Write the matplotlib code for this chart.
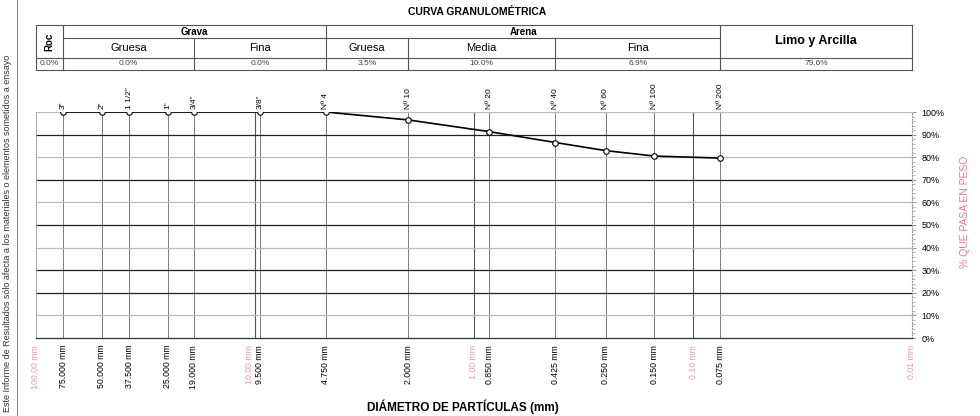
import matplotlib
matplotlib.use("Agg")
import matplotlib.pyplot as plt
import matplotlib.transforms as mtransforms
import numpy as np

plt.rcParams['font.family'] = ['Liberation Sans', 'DejaVu Sans']

# sieve data
sieves = ['3"', '2"', '1 1/2"', '1"', '3/4"', '3/8"', 'Nº 4', 'Nº 10', 'Nº 20', 'Nº 40', 'Nº 60', 'Nº 100', 'Nº 200']
diam = [75.0, 50.0, 37.5, 25.0, 19.0, 9.5, 4.75, 2.0, 0.85, 0.425, 0.25, 0.15, 0.075]
passing = [100, 100, 100, 100, 100, 100, 100, 96.5, 91.3, 86.5, 82.9, 80.5, 79.6]

ref_diam = [100.0, 10.0, 1.0, 0.1, 0.01]
ref_labels = ['100.00 mm', '10.00 mm', '1.00 mm', '0.10 mm', '0.01 mm']

# table: fractions
bounds = [100.0, 75.0, 19.0, 4.75, 2.0, 0.425, 0.075, 0.01]
sub_names = ['', 'Gruesa', 'Fina', 'Gruesa', 'Media', 'Fina', '']
sub_values = ['0.0%', '0.0%', '0.0%', '3.5%', '10.0%', '6.9%', '79.6%']

fig = plt.figure(figsize=(9.8, 4.16), dpi=100)
ax = fig.add_axes([36/980, 1-338/416, (912-36)/980, (338-112)/416])
ax.set_xscale('log')
ax.set_xlim(100, 0.01)
ax.set_ylim(0, 100)

# grid
for d in diam:
    ax.axvline(d, color='#666666', lw=0.6, zorder=1)
for d in ref_diam[1:4]:
    ax.axvline(d, color='#555555', lw=0.8, zorder=1)
for v in [90, 70, 50, 30, 20]:
    ax.axhline(v, color='#222222', lw=0.9, zorder=1)
for v in [100, 80, 60, 40, 10]:
    ax.axhline(v, color='#bbbbbb', lw=0.9, zorder=1)

ax.plot(diam, passing, color='black', lw=1.2, marker='o', ms=4,
        mfc='white', mec='black', mew=0.8, zorder=3)

ax.set_xticks([])
ax.minorticks_off()
ax.yaxis.tick_right()
ax.set_yticks(np.arange(0, 101, 10))
ax.set_yticklabels([f'{v}%' for v in range(0, 101, 10)], fontsize=6.5)
ax.set_yticks(np.arange(0, 101, 2), minor=True)
ax.tick_params(axis='y', which='major', length=3, width=0.6, color='#888888', pad=4)
ax.tick_params(axis='y', which='minor', length=2, width=0.5, color='#999999')
ax.spines['top'].set_visible(False)
ax.spines['left'].set_color('#999999')
ax.spines['left'].set_linewidth(0.6)
ax.spines['right'].set_color('#999999')
ax.spines['right'].set_linestyle(':')
ax.spines['bottom'].set_color('#333333')
ax.spines['bottom'].set_linewidth(0.9)

trans = mtransforms.blended_transform_factory(ax.transData, ax.transAxes)
for d, s in zip(diam, sieves):
    ax.text(d, 1.015, s, transform=trans, rotation=90, ha='center', va='bottom', fontsize=6)
    ax.text(d, -0.03, f'{d:.3f} mm', transform=trans, rotation=90, ha='center', va='top', fontsize=6.3)
for d, s in zip(ref_diam, ref_labels):
    t = trans
    if d == 10.0:
        t = trans + mtransforms.ScaledTranslation(-6/100, 0, fig.dpi_scale_trans)
    ax.text(d, -0.03, s, transform=t, rotation=90, ha='center', va='top', fontsize=6.3,
            color='#e89aab')

ax.text(1.06, 0.56, '% QUE PASA EN PESO', transform=ax.transAxes, rotation=90,
        ha='center', va='center', fontsize=7.5, color='#e07a90')

# table
tab = fig.add_axes([36/980, 1-70/416, (912-36)/980, 45/416])
tab.set_xscale('log')
tab.set_xlim(100, 0.01)
tab.set_ylim(0, 1)
tab.set_xticks([])
tab.set_yticks([])
tab.minorticks_off()
for s in tab.spines.values():
    s.set_color('#555555')
    s.set_linewidth(0.8)
y_val, y_sub = 0.267, 0.711
lc = '#555555'
tab.plot([100, 0.01], [y_val, y_val], color=lc, lw=0.8)
tab.plot([75, 0.075], [y_sub, y_sub], color=lc, lw=0.8)
for b in bounds[1:-1]:
    top = 1 if b in (75.0, 4.75, 0.075) else y_sub
    tab.plot([b, b], [0, top], color=lc, lw=0.8)
for i in range(len(bounds) - 1):
    xc = np.sqrt(bounds[i] * bounds[i + 1])
    tab.text(xc, y_val / 2, sub_values[i], ha='center', va='center', fontsize=6, color='#444444')
    if sub_names[i]:
        tab.text(xc, (y_val + y_sub) / 2, sub_names[i], ha='center', va='center', fontsize=8)
tab.text(np.sqrt(100 * 75), (y_val + 1) / 2, 'Roc', rotation=90, ha='center', va='center',
         fontsize=7, fontweight='bold')
tab.text(np.sqrt(75 * 4.75), (y_sub + 1) / 2, 'Grava', ha='center', va='center',
         fontsize=7, fontweight='bold')
tab.text(np.sqrt(4.75 * 0.075), (y_sub + 1) / 2, 'Arena', ha='center', va='center',
         fontsize=7, fontweight='bold')
tab.text(np.sqrt(0.075 * 0.01), (y_val + 1) / 2, 'Limo y Arcilla', ha='center', va='center',
         fontsize=9, fontweight='bold')

fig.text(477/980, 1-12/416, 'CURVA GRANULOMÉTRICA', ha='center', va='center',
         fontsize=7.5, fontweight='bold')
fig.text(463/980, 1-407/416, 'DIÁMETRO DE PARTÍCULAS (mm)', ha='center', va='center',
         fontsize=8.5, fontweight='bold')
fig.text(8/980, 1-412/416, 'Este Informe de Resultados sólo afecta a los materiales o elementos sometidos a ensayo',
         rotation=90, ha='center', va='bottom', fontsize=6.5, color='#333333')
fig.add_artist(plt.Line2D([17/980, 17/980], [0, 1], color='#888888', lw=0.8))

fig.savefig('out.png', dpi=100)
